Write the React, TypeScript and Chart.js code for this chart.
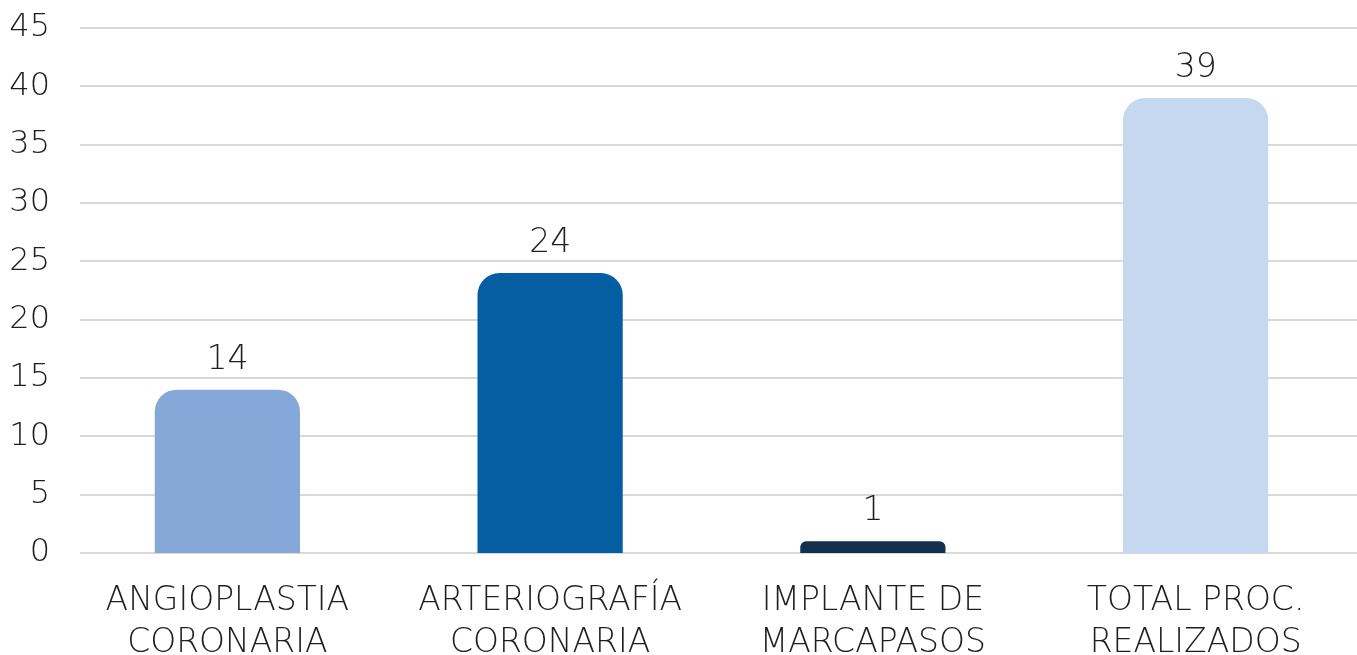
import React, { useEffect, useRef } from "react";
import { Chart, registerables } from "chart.js";

Chart.register(...registerables);

const categories: string[][] = [
  ["ANGIOPLASTIA", "CORONARIA"],
  ["ARTERIOGRAFÍA", "CORONARIA"],
  ["IMPLANTE DE", "MARCAPASOS"],
  ["TOTAL PROC.", "REALIZADOS"],
];
const values: number[] = [14, 24, 1, 39];
const barColors: string[] = ["#86A8D8", "#055EA1", "#14304F", "#C6D8F0"];
const yTicks: number[] = [0, 5, 10, 15, 20, 25, 30, 35, 40, 45];

const FONT = "'DejaVu Sans', sans-serif";
const WEIGHT = 200;
const TEXT = "#1F1F1F";

export default function App() {
  const ref = useRef<HTMLCanvasElement | null>(null);
  useEffect(() => {
    if (!ref.current) return;
    const gridPlugin = {
      id: "customGrid",
      beforeDatasetsDraw(chart: any) {
        const { ctx, chartArea, scales } = chart;
        ctx.save();
        ctx.strokeStyle = "#D9D9D9";
        ctx.lineWidth = 2;
        yTicks.forEach((t) => {
          const y = Math.round(scales.y.getPixelForValue(t));
          ctx.beginPath();
          ctx.moveTo(80, y);
          ctx.lineTo(chartArea.right, y);
          ctx.stroke();
        });
        ctx.restore();
      },
    };
    const labelPlugin = {
      id: "dataLabels",
      afterDatasetsDraw(chart: any) {
        const { ctx } = chart;
        const meta = chart.getDatasetMeta(0);
        ctx.save();
        ctx.fillStyle = TEXT;
        ctx.font = `${WEIGHT} 33px ${FONT}`;
        ctx.textAlign = "center";
        ctx.textBaseline = "alphabetic";
        meta.data.forEach((bar: any, i: number) => {
          ctx.fillText(String(values[i]), bar.x, bar.y - 21);
        });
        ctx.restore();
      },
    };
    const chart = new Chart(ref.current, {
      type: "bar",
      data: {
        labels: categories,
        datasets: [
          {
            data: values,
            backgroundColor: barColors,
            borderRadius: { topLeft: 22, topRight: 22, bottomLeft: 0, bottomRight: 0 },
            borderSkipped: false,
            categoryPercentage: 1,
            barPercentage: 0.45,
          },
        ],
      },
      options: {
        animation: false,
        responsive: false,
        maintainAspectRatio: false,
        layout: { padding: { top: 28, right: 0, left: 0, bottom: 0 } },
        plugins: { legend: { display: false }, tooltip: { enabled: false } },
        scales: {
          x: {
            grid: { display: false, drawTicks: false },
            border: { display: false },
            ticks: {
              color: TEXT,
              font: { family: FONT, size: 33, weight: WEIGHT as any, lineHeight: 1.28 },
              padding: 27,
              maxRotation: 0,
              autoSkip: false,
            },
            afterFit(scale: any) {
              scale.height = 102;
            },
          },
          y: {
            min: 0,
            max: 45,
            grid: { display: false, drawTicks: false },
            border: { display: false },
            ticks: {
              stepSize: 5,
              color: TEXT,
              font: { family: FONT, size: 32, weight: WEIGHT as any, lineHeight: 0.3 },
              padding: 16,
            },
            afterFit(scale: any) {
              scale.width = 66;
            },
          },
        },
      },
      plugins: [gridPlugin, labelPlugin],
    });
    return () => chart.destroy();
  }, []);
  return (
    <div style={{ position: "absolute", left: 0, top: 0, width: 1357, height: 655, background: "#fff" }}>
      <canvas ref={ref} width={1357} height={655} style={{ width: 1357, height: 655 }} />
    </div>
  );
}
